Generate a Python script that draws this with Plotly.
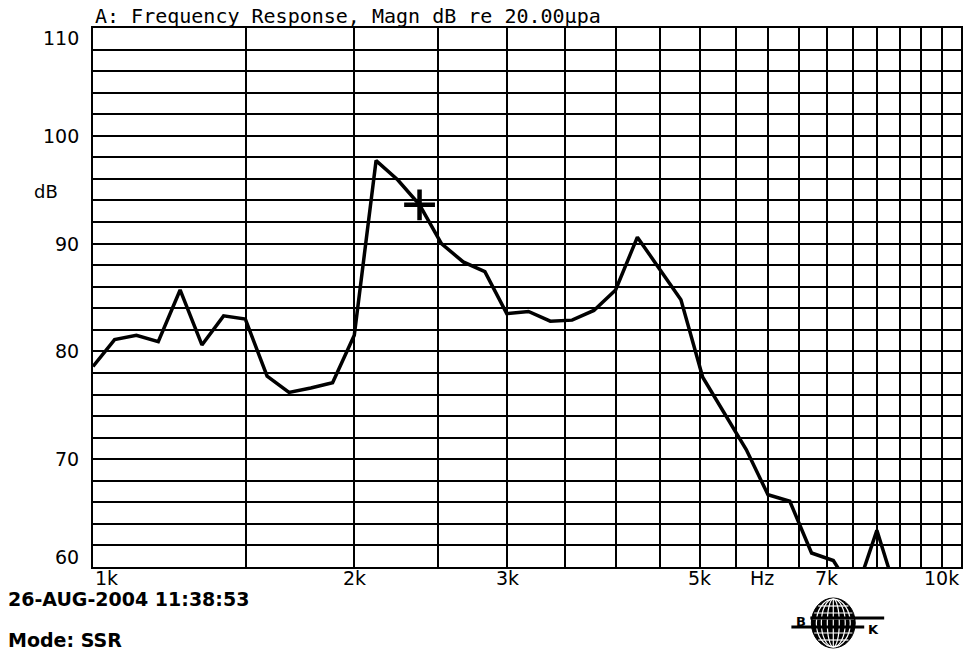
import math
import plotly.graph_objects as go

# ---- data ----
freq_hz = [1000, 1059, 1122, 1189, 1260, 1335, 1414, 1498, 1587, 1682, 1782, 1888,
           2000, 2119, 2245, 2378, 2520, 2670, 2828, 2997, 3175, 3364, 3564, 3776,
           4000, 4238, 4490, 4757, 5040, 5339, 5657, 5993, 6350, 6727, 7127, 7551,
           8000, 8476]
level_db = [78.6, 81.1, 81.5, 80.9, 85.7, 80.6, 83.3, 83.0, 77.7, 76.2, 76.6, 77.1,
            81.5, 97.7, 95.9, 93.6, 90.0, 88.3, 87.4, 83.5, 83.7, 82.8, 82.9, 83.8,
            85.7, 90.6, 87.7, 84.8, 77.6, 74.3, 70.9, 66.7, 66.1, 61.3, 60.6, 57.4,
            63.4, 56.9]

cursor_freq = [2378]
cursor_db = [93.6]

grid_freqs = [1000, 1500, 2000, 2500, 3000, 3500, 4000, 4500, 5000, 5500, 6000,
              6500, 7000, 7500, 8000, 8500, 9000, 9500, 10000]
x_label_vals = [1000, 2000, 3000, 5000, 7000, 10000]
x_label_text = ["1k", "2k", "3k", "5k", "7k", "10k"]
y_grid_vals = list(range(60, 111, 2))
y_label_vals = [60, 70, 80, 90, 100, 110]

title_text = "A: Frequency Response, Magn dB re 20.00µpa"
date_text = "26-AUG-2004 11:38:53"
mode_text = "Mode: SSR"

# ---- layout geometry ----
W, H = 970, 652
L, R, T, B = 93, 7, 28, 85
PW, PH = W - L - R, H - T - B

def px(x):
    return (x - L) / PW

def py(y):
    return (H - B - y) / PH

SANS = "DejaVu Sans"
MONO = "DejaVu Sans Mono"

fig = go.Figure()
fig.add_trace(go.Scatter(x=freq_hz, y=level_db, mode="lines",
                         line=dict(color="black", width=3.5),
                         hoverinfo="x+y", showlegend=False))
fig.add_trace(go.Scatter(x=cursor_freq, y=cursor_db, mode="markers",
                         marker=dict(symbol="cross-thin", size=22,
                                     line=dict(color="black", width=4.5)),
                         showlegend=False, hoverinfo="skip"))

annotations = []
# y labels
for v in y_label_vals:
    shift = 0
    if v == 110:
        shift = -10
    elif v == 60:
        shift = 10
    annotations.append(dict(x=0, xref="paper", xanchor="right", xshift=-12,
                            y=v, yref="y", yanchor="middle", yshift=shift,
                            text=str(v), showarrow=False,
                            font=dict(family=SANS, size=19, color="black")))
# x labels
for v, t in zip(x_label_vals, x_label_text):
    anchor = "center"
    if v == x_label_vals[0]:
        anchor = "left"
    elif v == x_label_vals[-1]:
        anchor = "right"
    annotations.append(dict(x=math.log10(v), xref="x", xanchor=anchor,
                            y=0, yref="paper", yanchor="top", yshift=2,
                            text=t, showarrow=False,
                            font=dict(family=SANS, size=19, color="black")))
annotations.append(dict(x=math.log10(6000), xref="x", xanchor="center", xshift=-6,
                        y=0, yref="paper", yanchor="top", yshift=2,
                        text="Hz", showarrow=False,
                        font=dict(family=SANS, size=19, color="black")))
annotations.append(dict(x=px(46), xref="paper", xanchor="center",
                        y=py(191), yref="paper", yanchor="middle",
                        text="dB", showarrow=False,
                        font=dict(family=SANS, size=18, color="black")))
annotations.append(dict(x=0, xref="paper", xanchor="left", xshift=0,
                        y=1, yref="paper", yanchor="bottom", yshift=-2,
                        text=title_text, showarrow=False,
                        font=dict(family=MONO, size=20, color="black")))
annotations.append(dict(x=px(6), xref="paper", xanchor="left",
                        y=py(599), yref="paper", yanchor="middle",
                        text="<b>" + date_text + "</b>", showarrow=False,
                        font=dict(family=SANS, size=19, color="black")))
annotations.append(dict(x=px(6), xref="paper", xanchor="left",
                        y=py(640), yref="paper", yanchor="middle",
                        text="<b>" + mode_text + "</b>", showarrow=False,
                        font=dict(family=SANS, size=19, color="black")))
# logo letters
annotations.append(dict(x=px(803), xref="paper", xanchor="center",
                        y=py(621), yref="paper", yanchor="middle",
                        text="<b>B</b>", showarrow=False,
                        font=dict(family=SANS, size=13, color="black")))
annotations.append(dict(x=px(875), xref="paper", xanchor="center",
                        y=py(629), yref="paper", yanchor="middle",
                        text="<b>K</b>", showarrow=False,
                        font=dict(family=SANS, size=13, color="black")))

# logo shapes (Brüel & Kjær globe)
shapes = []
cx, cy, rx, ry = 835, 623, 22, 25
shapes.append(dict(type="circle", xref="paper", yref="paper",
                   x0=px(cx - rx), x1=px(cx + rx), y0=py(cy + ry), y1=py(cy - ry),
                   fillcolor="black", line=dict(color="black", width=1), layer="above"))
for k in [6, 12, 17]:
    shapes.append(dict(type="circle", xref="paper", yref="paper",
                       x0=px(cx - k), x1=px(cx + k), y0=py(cy + ry - 1), y1=py(cy - ry + 1),
                       line=dict(color="white", width=1.2), layer="above"))
shapes.append(dict(type="line", xref="paper", yref="paper",
                   x0=px(cx), x1=px(cx), y0=py(cy + ry - 1), y1=py(cy - ry + 1),
                   line=dict(color="white", width=1.2), layer="above"))
for dy in [-17, -10, -4, 4, 10, 17]:
    half = rx * math.sqrt(max(0.0, 1 - (dy / ry) ** 2)) - 1
    shapes.append(dict(type="line", xref="paper", yref="paper",
                       x0=px(cx - half), x1=px(cx + half), y0=py(cy + dy), y1=py(cy + dy),
                       line=dict(color="white", width=1.2), layer="above"))
shapes.append(dict(type="line", xref="paper", yref="paper",
                   x0=px(812), x1=px(886), y0=py(618), y1=py(618),
                   line=dict(color="black", width=3), layer="above"))
shapes.append(dict(type="line", xref="paper", yref="paper",
                   x0=px(793), x1=px(866), y0=py(627), y1=py(627),
                   line=dict(color="black", width=3), layer="above"))

fig.update_layout(
    width=W, height=H,
    margin=dict(l=L, r=R, t=T, b=B),
    paper_bgcolor="white", plot_bgcolor="white",
    annotations=annotations, shapes=shapes,
    xaxis=dict(type="log", range=[3, 4], tickvals=grid_freqs, showticklabels=False,
               ticks="", showgrid=True, gridcolor="black", gridwidth=2,
               showline=True, linecolor="black", linewidth=2, mirror=True,
               zeroline=False, fixedrange=True),
    yaxis=dict(range=[60, 110], tickvals=y_grid_vals, showticklabels=False,
               ticks="", showgrid=True, gridcolor="black", gridwidth=2,
               showline=True, linecolor="black", linewidth=2, mirror=True,
               zeroline=False, fixedrange=True),
    showlegend=False,
)

fig.write_html("out.html", config={"displayModeBar": False},
               post_script="document.body.style.margin='0px';document.body.style.padding='0px';")
